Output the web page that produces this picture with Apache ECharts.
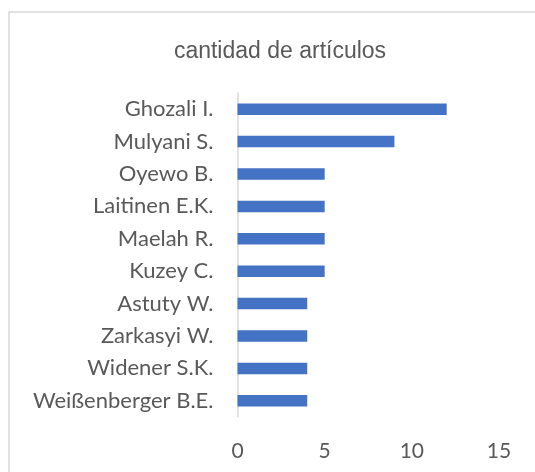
<!DOCTYPE html>
<html>
<head>
<meta charset="utf-8">
<script src="https://cdn.jsdelivr.net/npm/echarts@6/dist/echarts.min.js"></script>
<style>
  html, body { margin: 0; padding: 0; background: #ffffff; }
  #chart { width: 535px; height: 472px; }
</style>
</head>
<body>
<div id="chart"></div>
<script>
// Authors and how many articles each one has
const authors = ['Ghozali I.', 'Mulyani S.', 'Oyewo B.', 'Laitinen E.K.', 'Maelah R.',
                 'Kuzey C.', 'Astuty W.', 'Zarkasyi W.', 'Widener S.K.', 'Weißenberger B.E.'];
const articleCounts = [12, 9, 5, 5, 5, 5, 4, 4, 4, 4];
const xTicks = [0, 5, 10, 15];

const chart = echarts.init(document.getElementById('chart'), null, { renderer: 'canvas' });

const textColor = '#595959';
const labelFont = 'Lato';

chart.setOption({
  animation: false,
  backgroundColor: '#ffffff',
  title: {
    text: 'cantidad de artículos',
    left: 275,
    top: 35,
    textAlign: 'center',
    textStyle: {
      fontFamily: 'Liberation Sans',
      fontWeight: 'normal',
      fontSize: 23,
      color: textColor
    }
  },
  graphic: [{
    type: 'rect',
    shape: { x: 9, y: 12, width: 600, height: 600 },
    style: { fill: 'none', stroke: '#d9d9d9', lineWidth: 1.5 },
    silent: true
  }],
  grid: {
    left: 237.5,
    right: 36,
    top: 93,
    bottom: 55,
    containLabel: false
  },
  xAxis: {
    type: 'value',
    min: xTicks[0],
    max: xTicks[xTicks.length - 1],
    interval: xTicks[1] - xTicks[0],
    axisLine: { show: false },
    axisTick: { show: false },
    splitLine: { show: false },
    axisLabel: {
      margin: 24,
      color: textColor,
      fontFamily: labelFont,
      fontSize: 21
    }
  },
  yAxis: {
    type: 'category',
    data: authors,
    inverse: true,
    axisLine: { show: true, lineStyle: { color: '#d9d9d9', width: 1.5 } },
    axisTick: { show: false },
    splitLine: { show: false },
    axisLabel: {
      margin: 24,
      color: textColor,
      fontFamily: labelFont,
      fontSize: 22
    }
  },
  series: [{
    type: 'bar',
    data: articleCounts,
    barWidth: 11.5,
    itemStyle: { color: '#4472c4' }
  }]
});
</script>
</body>
</html>
